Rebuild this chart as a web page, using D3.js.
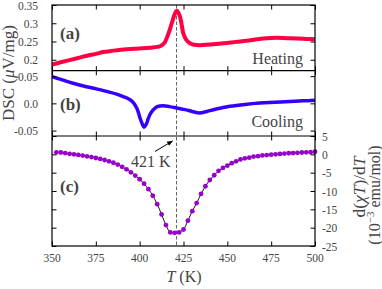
<!DOCTYPE html>
<html><head><meta charset="utf-8">
<script src="https://cdn.jsdelivr.net/npm/d3@7"></script>
<style>body{margin:0;background:#fff}svg{display:block}text{font-family:"Liberation Serif","DejaVu Serif",serif;fill:#444}</style>
</head><body><svg id="c" width="382" height="289"></svg>
<script>
// Panel (a): DSC heating
const heatT = [350,355,360,365,370,375,379,385,392.6,400,405.9,411.6,414,415.4,417,418.3,420,421.1,422,423,424,424.9,426.5,428.7,431,434.4,440,447.7,455,461,467,472.4,478,483.9,490,495,500];
const heatV = [0.187,0.193,0.199,0.205,0.211,0.216,0.221,0.225,0.229,0.231,0.233,0.237,0.245,0.259,0.28,0.30,0.325,0.334,0.33,0.318,0.295,0.272,0.255,0.245,0.241,0.240,0.242,0.245,0.249,0.252,0.256,0.259,0.260,0.259,0.258,0.257,0.256];
// Panel (b): DSC cooling
const coolT = [350,356,362,368,375.3,381,386.9,391,394.5,396.5,398.3,399.3,400.2,401.5,402.5,403.8,405,406.3,407.8,410,413.5,417,421.1,425.9,430,434.4,440.1,445,451.5,460,468.6,477,485.7,493,500];
const coolV = [0.049,0.043,0.037,0.032,0.0266,0.022,0.017,0.012,0.0066,0.001,-0.0085,-0.017,-0.027,-0.038,-0.0437,-0.038,-0.027,-0.018,-0.0116,-0.006,-0.0043,-0.006,-0.0085,-0.0115,-0.015,-0.0176,-0.0134,-0.0095,-0.0055,-0.002,0.0005,0.002,0.0036,0.0046,0.0055];
// Panel (c): d(chiT)/dT
const dT = [352.5,355,357.5,360,362.5,365,367.5,370,372.5,375,377.5,380,382.5,385,387.5,390,392.5,395,397.5,400,402.5,405,407.5,410,412.5,415,417.5,420,422.5,425,427.5,430,432.5,435,437.5,440,442.5,445,447.5,450,452.5,455,457.5,460,462.5,465,467.5,470,472.5,475,477.5,480,482.5,485,487.5,490,492.5,495,497.5,500];
const dV = [0.55,0.5,0.35,0.15,0.0,-0.15,-0.35,-0.55,-0.75,-1.0,-1.25,-1.55,-1.9,-2.3,-2.8,-3.4,-4.1,-4.9,-5.8,-6.8,-8.0,-9.5,-11.3,-13.6,-16.4,-19.3,-21.3,-21.4,-21.3,-20.5,-18.1,-15.5,-13.3,-10.8,-8.7,-7.0,-5.7,-4.5,-3.7,-3.1,-2.4,-1.9,-1.4,-1.1,-0.9,-0.6,-0.5,-0.3,-0.2,-0.1,0.0,0.1,0.2,0.3,0.35,0.4,0.5,0.55,0.6,0.7];
const xTicks = [350,375,400,425,450,475,500];
const aTicks = [0.2,0.25,0.3,0.35];
const bTicks = [-0.05,0.0,0.05];
const cTicks = [-25,-20,-15,-10,-5,0,5];
const transT = 421;

const svg = d3.select("#c");
const L=52,R=315;
const x = d3.scaleLinear().domain([350,500]).range([L,R]);
const ya = d3.scaleLinear().domain([0.17,0.35]).range([70.7,5]);
const yb = d3.scaleLinear().domain([-0.06,0.06]).range([136,70.7]);
const yc = d3.scaleLinear().domain([-25,5]).range([246,136]);
const TL=4.5;

function panel(y, ticksY, fmt, leftLabels, rightLabels){
  const [y0,y1]=y.range();
  const g=svg.append("g");
  const la=g.append("g").attr("transform",`translate(${L},0)`)
    .call(d3.axisLeft(y).tickValues(ticksY).tickSize(-TL).tickPadding(14).tickFormat(leftLabels?fmt:""));
  la.select(".domain").remove();
  la.selectAll("text").attr("font-size",11.5).style("fill","#444").attr("dy","0.35em");
  const ra=g.append("g").attr("transform",`translate(${R},0)`)
    .call(d3.axisRight(y).tickValues(ticksY).tickSize(-TL).tickPadding(7).tickFormat(rightLabels?fmt:""));
  ra.select(".domain").remove();
  ra.selectAll("text").attr("font-size",11.5).style("fill","#444").attr("dy","0.35em");
  const xb=g.append("g").attr("transform",`translate(0,${y0})`)
    .call(d3.axisBottom(x).tickValues(xTicks).tickSize(-TL).tickFormat(""));
  xb.select(".domain").remove();
  const xt=g.append("g").attr("transform",`translate(0,${y1})`)
    .call(d3.axisTop(x).tickValues(xTicks).tickSize(-TL).tickFormat(""));
  xt.select(".domain").remove();
  g.selectAll(".tick line").attr("stroke","#000").attr("stroke-width",1);
  return g;
}

const fmtA = v => v===0.35?"0.35":v===0.3?"0.3":v===0.25?"0.25":"0.2";
const fmtB = v => v===0? "0.0" : d3.format(".2f")(v).replace("−","-");
const fmtC = v => String(v);

function clip(id,y){const [b,t]=y.range();svg.append("clipPath").attr("id",id).append("rect").attr("x",L).attr("y",t).attr("width",R-L).attr("height",b-t);}
clip("ca",ya);clip("cb",yb);clip("cc",yc);

svg.append("line").attr("x1",x(transT)).attr("x2",x(transT)).attr("y1",ya.range()[1]).attr("y2",yc.range()[0])
  .attr("stroke","#666").attr("stroke-width",1).attr("stroke-dasharray","3.5,2");

const lineA=d3.line().x((d,i)=>x(heatT[i])).y(d=>ya(d)).curve(d3.curveCatmullRom);
svg.append("path").datum(heatV).attr("d",lineA).attr("fill","none").attr("stroke","#ff0045").attr("stroke-width",4).attr("clip-path","url(#ca)");
const lineB=d3.line().x((d,i)=>x(coolT[i])).y(d=>yb(d)).curve(d3.curveCatmullRom);
svg.append("path").datum(coolV).attr("d",lineB).attr("fill","none").attr("stroke","#3300ff").attr("stroke-width",3.5).attr("clip-path","url(#cb)");
const lineC=d3.line().x((d,i)=>x(dT[i])).y(d=>yc(d)).curve(d3.curveCatmullRom);
svg.append("path").datum(dV).attr("d",lineC).attr("fill","none").attr("stroke","#111").attr("stroke-width",1);
svg.append("g").selectAll("circle").data(dV).join("circle")
  .attr("cx",(d,i)=>x(dT[i])).attr("cy",d=>yc(d)).attr("r",2.4).attr("fill","#9900cc");

panel(ya,aTicks,fmtA,true,false);
panel(yb,bTicks,fmtB,true,false);
panel(yc,cTicks,fmtC,false,true);

svg.append("rect").attr("x",L).attr("y",ya.range()[1]).attr("width",R-L).attr("height",yc.range()[0]-ya.range()[1])
  .attr("fill","none").attr("stroke","#000").attr("stroke-width",1.2);
[ya.range()[0],yb.range()[0]].forEach(yy=>svg.append("line").attr("x1",L).attr("x2",R).attr("y1",yy).attr("y2",yy).attr("stroke","#000").attr("stroke-width",1.2));

svg.append("g").selectAll("text").data(xTicks).join("text")
  .attr("x",d=>x(d)).attr("y",262).attr("text-anchor","middle").attr("font-size",11.5).text(d=>d);

const FS=16;
const xl=svg.append("text").attr("x",184).attr("y",282).attr("text-anchor","middle").attr("font-size",FS);
xl.append("tspan").attr("font-style","italic").text("T");
xl.append("tspan").text(" (K)");
const yl=svg.append("text").attr("transform","translate(14,73) rotate(-90)").attr("text-anchor","middle").attr("font-size",FS+1);
yl.append("tspan").text("DSC (");
yl.append("tspan").attr("font-style","italic").text("μ");
yl.append("tspan").text("V/mg)");
const r1=svg.append("text").attr("transform","translate(365,187) rotate(-90)").attr("text-anchor","middle").attr("font-size",FS+1.5);
r1.append("tspan").text("d(");r1.append("tspan").attr("font-style","italic").text("χT");
r1.append("tspan").text(")/d");r1.append("tspan").attr("font-style","italic").text("T");
const r2=svg.append("text").attr("transform","translate(380,195) rotate(-90)").attr("text-anchor","middle").attr("font-size",FS);
r2.append("tspan").text("(10");r2.append("tspan").attr("font-size",11).attr("dy",-6).text("−3");
r2.append("tspan").attr("dy",6).text(" emu/mol)");

[["(a)",39],["(b)",110],["(c)",192]].forEach(([t,yy])=>svg.append("text").attr("x",60).attr("y",yy).attr("font-size",17).attr("font-weight","bold").text(t));
svg.append("text").attr("x",303).attr("y",64).attr("text-anchor","end").attr("font-size",FS).text("Heating");
svg.append("text").attr("x",303).attr("y",126.5).attr("text-anchor","end").attr("font-size",FS).text("Cooling");
svg.append("text").attr("x",170.5).attr("y",167).attr("text-anchor","end").attr("font-size",FS).text("421 K");
svg.append("defs").append("marker").attr("id","ah").attr("viewBox","0 0 10 10").attr("refX",9).attr("refY",5)
  .attr("markerWidth",6).attr("markerHeight",6).attr("orient","auto")
  .append("path").attr("d","M0,1 L10,5 L0,9 Z").attr("fill","#000");
svg.append("line").attr("x1",155).attr("y1",151.5).attr("x2",x(transT)-4).attr("y2",141)
  .attr("stroke","#000").attr("stroke-width",1).attr("marker-end","url(#ah)");
</script></body></html>
